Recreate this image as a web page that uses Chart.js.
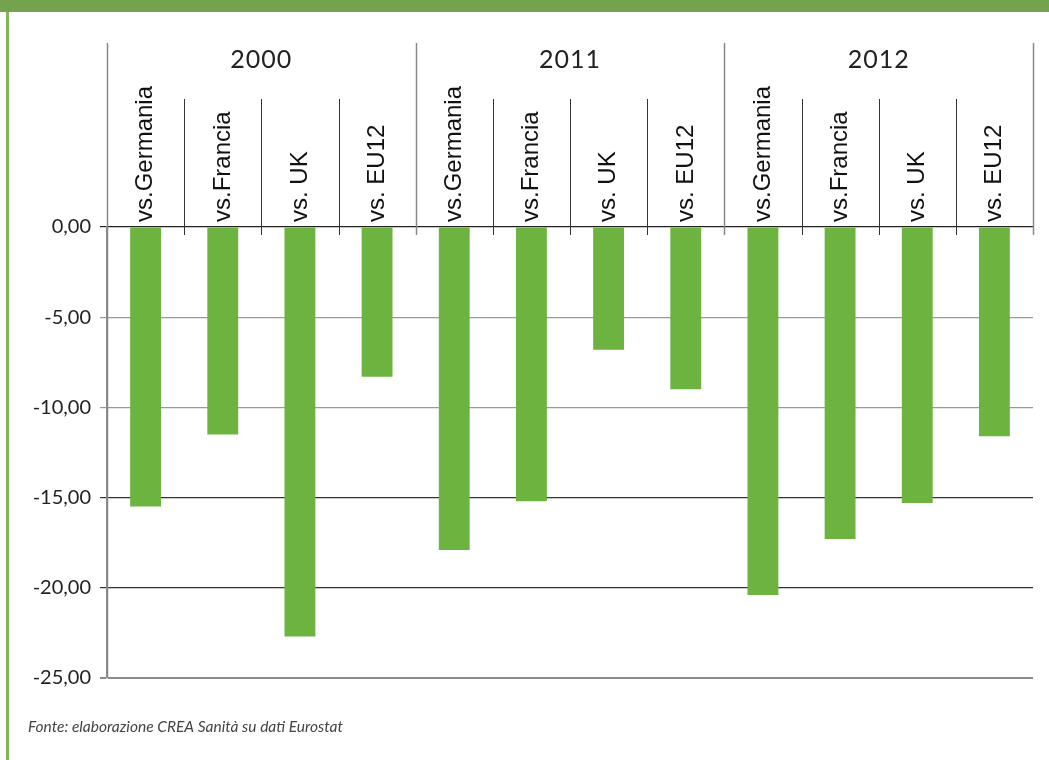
<!DOCTYPE html>
<html>
<head>
<meta charset="utf-8">
<script src="https://cdn.jsdelivr.net/npm/chart.js@4/dist/chart.umd.min.js"></script>
<style>
  body { margin: 0; background: #fff; }
  canvas { display: block; }
</style>
</head>
<body>
<canvas id="gapChart" width="1049" height="760"></canvas>
<script>
// data
const years = ["2000", "2011", "2012"];
const comparisons = ["vs.Germania", "vs.Francia", "vs. UK", "vs. EU12"];
const values2000 = [-15.5, -11.5, -22.7, -8.3];
const values2011 = [-17.9, -15.2, -6.8, -9.0];
const values2012 = [-20.4, -17.3, -15.3, -11.6];
const yTicks = [0, -5, -10, -15, -20, -25];
const footnote = "Fonte: elaborazione CREA Sanità su dati Eurostat";

const labels = [];
years.forEach(function () {
  comparisons.forEach(function (c) { labels.push(c); });
});
const values = values2000.concat(values2011, values2012);

// grid colours per tick, top to bottom
const gridColors = { "0": "#222", "-5": "#999", "-10": "#999", "-15": "#333", "-20": "#333", "-25": "#8a8a8a" };

const frame = {
  id: "frame",
  beforeDraw(chart) {
    const ctx = chart.ctx;
    ctx.save();
    ctx.fillStyle = "#74a24f";
    ctx.fillRect(0, 0, chart.width, 12);
    ctx.fillStyle = "#80b558";
    ctx.fillRect(6, 12, 3, chart.height - 12);
    ctx.restore();
  },
  afterDraw(chart) {
    const ctx = chart.ctx;
    const x = chart.scales.x;
    const area = chart.chartArea;
    const n = comparisons.length;
    ctx.save();
    // dividers between categories
    for (let i = 0; i <= labels.length; i++) {
      const px = Math.round(x.getPixelForValue(i - 0.5)) + 0.5;
      const isGroup = i % n === 0;
      ctx.beginPath();
      ctx.strokeStyle = isGroup ? "#888" : "#333";
      ctx.lineWidth = isGroup ? 1.5 : 1;
      ctx.moveTo(px, isGroup ? 43 : 99);
      ctx.lineTo(px, i === 0 ? area.bottom : area.top + 8);
      ctx.stroke();
    }
    // year labels
    ctx.fillStyle = "#222";
    ctx.font = "25px Lato";
    ctx.letterSpacing = "1px";
    ctx.textAlign = "center";
    ctx.textBaseline = "middle";
    years.forEach(function (y, g) {
      const l = x.getPixelForValue(g * n - 0.5);
      const r = x.getPixelForValue((g + 1) * n - 0.5);
      ctx.fillText(y, (l + r) / 2, 60);
    });
    // source note
    ctx.letterSpacing = "0px";
    ctx.fillStyle = "#444";
    ctx.font = "italic 15.5px Lato";
    ctx.textAlign = "left";
    ctx.textBaseline = "alphabetic";
    ctx.fillText(footnote, 28, 732);
    ctx.restore();
  }
};

new Chart("gapChart", {
  type: "bar",
  data: {
    labels: labels,
    datasets: [
      {
        data: values,
        backgroundColor: "#6db33f",
        barPercentage: 0.4,
        categoryPercentage: 1
      }
    ]
  },
  options: {
    responsive: false,
    animation: false,
    layout: { padding: { left: 0, right: 16, top: 0, bottom: 82 } },
    plugins: {
      legend: { display: false },
      tooltip: { enabled: false }
    },
    scales: {
      x: {
        position: "top",
        grid: { display: false, drawTicks: false },
        border: { display: false },
        ticks: {
          autoSkip: false,
          minRotation: 90,
          maxRotation: 90,
          padding: 5,
          labelOffset: 29,
          color: "#111",
          font: { family: "'Liberation Sans', Arial", size: 24 }
        },
        afterFit(scale) { scale.height = 227; }
      },
      y: {
        min: -25,
        max: 0,
        afterBuildTicks(scale) {
          scale.ticks = yTicks.map(function (v) { return { value: v }; });
        },
        grid: {
          color(ctx) { return gridColors[String(ctx.tick.value)] || "#333"; },
          lineWidth(ctx) { return ctx.tick.value === -25 ? 2 : 1.2; },
          tickLength: 7
        },
        border: { color: "#8a8a8a", width: 2 },
        ticks: {
          padding: 9,
          color: "#222",
          font: { family: "Lato", size: 20 },
          callback(v) { return v.toFixed(2).replace(".", ","); }
        },
        afterFit(scale) { scale.width = 107; }
      }
    }
  },
  plugins: [frame]
});
</script>
</body>
</html>
